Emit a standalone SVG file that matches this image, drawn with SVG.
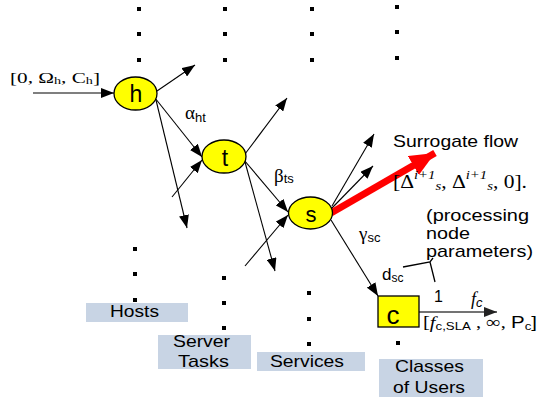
<svg xmlns="http://www.w3.org/2000/svg" width="539" height="402" viewBox="0 0 539 402">
<style>
.sans{font-family:"Liberation Sans",Arial,sans-serif;fill:#000}
.serif{font-family:"Liberation Serif","Times New Roman",serif;fill:#000}
.node{fill:#ffff00;stroke:#000;stroke-width:1.3}
.lbl{fill:#c8d4e4}
.dot{fill:#000}
.edge{stroke:#000;stroke-width:1.1;fill:none;marker-end:url(#ah)}
</style>
<defs>
<marker id="ah" markerUnits="userSpaceOnUse" markerWidth="14" markerHeight="10" refX="13" refY="5" orient="auto">
<path d="M0,0 L13,5 L0,10 z" fill="#000"/>
</marker>
<marker id="ahg" markerUnits="userSpaceOnUse" markerWidth="14" markerHeight="10" refX="13" refY="5" orient="auto">
<path d="M0,0 L13,5 L0,10 z" fill="#222"/>
</marker>
<marker id="ahr" markerUnits="userSpaceOnUse" markerWidth="26" markerHeight="22" refX="25" refY="11" orient="auto">
<path d="M0,0 L25,11 L0,22 z" fill="#ff0000"/>
</marker>
</defs>

<g id="dots">
<rect class="dot" x="137" y="7" width="4" height="4"/>
<rect class="dot" x="137" y="32" width="4" height="4"/>
<rect class="dot" x="137" y="58" width="4" height="4"/>
<rect class="dot" x="223" y="7" width="4" height="4"/>
<rect class="dot" x="223" y="32" width="4" height="4"/>
<rect class="dot" x="223" y="58" width="4" height="4"/>
<rect class="dot" x="310" y="7" width="4" height="4"/>
<rect class="dot" x="310" y="32" width="4" height="4"/>
<rect class="dot" x="310" y="58" width="4" height="4"/>
<rect class="dot" x="395" y="5" width="4" height="4"/>
<rect class="dot" x="395" y="30" width="4" height="4"/>
<rect class="dot" x="395" y="56" width="4" height="4"/>
<rect class="dot" x="133" y="247" width="4" height="4"/>
<rect class="dot" x="133" y="272" width="4" height="4"/>
<rect class="dot" x="133" y="298" width="4" height="4"/>
<rect class="dot" x="222" y="276" width="4" height="4"/>
<rect class="dot" x="222" y="301" width="4" height="4"/>
<rect class="dot" x="222" y="326" width="4" height="4"/>
<rect class="dot" x="307" y="291" width="4" height="4"/>
<rect class="dot" x="307" y="317" width="4" height="4"/>
<rect class="dot" x="307" y="342" width="4" height="4"/>
<rect class="dot" x="396" y="341" width="4" height="4"/>
</g>

<g id="connectors">
<line class="edge" x1="33" y1="93" x2="114" y2="93"/>
<line class="edge" x1="157" y1="91" x2="195" y2="65"/>
<line class="edge" x1="155" y1="98" x2="202" y2="157"/>
<line class="edge" x1="156" y1="100" x2="187" y2="228"/>
<line class="edge" x1="172" y1="197" x2="202" y2="160"/>
<line class="edge" x1="245" y1="154" x2="287" y2="98"/>
<line class="edge" x1="244" y1="160" x2="288" y2="212"/>
<line class="edge" x1="245" y1="162" x2="275" y2="271"/>
<line class="edge" x1="245" y1="266" x2="288" y2="215"/>
<line class="edge" x1="332" y1="206" x2="374" y2="134"/>
<line class="edge" x1="332" y1="208" x2="373" y2="166"/>
<line class="edge" x1="331" y1="220" x2="378" y2="296"/>
<line x1="419" y1="312" x2="497" y2="312" stroke="#444" stroke-width="1.3" marker-end="url(#ahg)"/>
<line x1="331" y1="213" x2="435" y2="153" stroke="#ff0000" stroke-width="7" marker-end="url(#ahr)"/>
<path d="M403,267 L430,262 L433,258 M430,262 L435,282" stroke="#000" stroke-width="1.3" fill="none"/>
</g>

<g id="node-h">
<ellipse class="node" cx="135.5" cy="93.5" rx="21.5" ry="16.5"/>
<text class="sans" x="136" y="102" font-size="23" text-anchor="middle">h</text>
</g>
<g id="node-t">
<ellipse class="node" cx="224" cy="156.5" rx="22" ry="16.5"/>
<text class="sans" x="225" y="166" font-size="23" text-anchor="middle">t</text>
</g>
<g id="node-s">
<ellipse class="node" cx="310.5" cy="213" rx="22" ry="16"/>
<text class="sans" x="311" y="222" font-size="22" text-anchor="middle">s</text>
</g>
<g id="node-c">
<rect class="node" x="378" y="296" width="41" height="31"/>
<text class="sans" x="393" y="324" font-size="26" text-anchor="middle">c</text>
</g>

<g id="label-hosts">
<rect class="lbl" x="86" y="303" width="102" height="19"/>
<text class="sans" x="110" y="317" font-size="17" textLength="49" lengthAdjust="spacingAndGlyphs">Hosts</text>
</g>
<g id="label-server-tasks">
<rect class="lbl" x="158" y="335" width="93" height="34"/>
<text class="sans" x="173" y="347" font-size="17" textLength="57" lengthAdjust="spacingAndGlyphs">Server</text>
<text class="sans" x="178" y="367" font-size="17" textLength="51" lengthAdjust="spacingAndGlyphs">Tasks</text>
</g>
<g id="label-services">
<rect class="lbl" x="257" y="352" width="108" height="19"/>
<text class="sans" x="270" y="367" font-size="17" textLength="74" lengthAdjust="spacingAndGlyphs">Services</text>
</g>
<g id="label-classes">
<rect class="lbl" x="379" y="359" width="104" height="38"/>
<text class="sans" x="395" y="372" font-size="17" textLength="69" lengthAdjust="spacingAndGlyphs">Classes</text>
<text class="sans" x="393" y="393" font-size="17" textLength="72" lengthAdjust="spacingAndGlyphs">of Users</text>
</g>

<g id="annotations">
<text class="serif" x="10" y="83" font-size="15" textLength="90" lengthAdjust="spacingAndGlyphs">[0,  Ω<tspan font-size="10" dy="1">h</tspan><tspan dy="-1">, C</tspan><tspan font-size="10" dy="1">h</tspan><tspan dy="-1">]</tspan></text>
<text x="185" y="119"><tspan class="serif" font-size="19">α</tspan><tspan class="sans" font-size="13" dy="3">ht</tspan></text>
<text x="274" y="182"><tspan class="serif" font-size="19">β</tspan><tspan class="sans" font-size="13" dy="1">ts</tspan></text>
<text x="359" y="240"><tspan class="serif" font-size="19">γ</tspan><tspan class="sans" font-size="13" dy="2">sc</tspan></text>
<text class="sans" x="393" y="147" font-size="17" textLength="125" lengthAdjust="spacingAndGlyphs">Surrogate flow</text>
<text class="serif" x="393" y="188" font-size="19" textLength="134" lengthAdjust="spacingAndGlyphs">[Δ<tspan font-size="13" font-style="italic" dy="-9">i+1</tspan><tspan font-size="13" font-style="italic" dy="11">s</tspan><tspan dy="-2">, Δ</tspan><tspan font-size="13" font-style="italic" dy="-9">i+1</tspan><tspan font-size="13" font-style="italic" dy="11">s</tspan><tspan dy="-2">, 0].</tspan></text>
<text class="sans" x="426" y="221" font-size="17" textLength="103" lengthAdjust="spacingAndGlyphs">(processing</text>
<text class="sans" x="426" y="239" font-size="17" textLength="44" lengthAdjust="spacingAndGlyphs">node</text>
<text class="sans" x="426" y="257" font-size="17" textLength="107" lengthAdjust="spacingAndGlyphs">parameters)</text>
<text class="sans" x="382" y="280" font-size="17">d<tspan font-size="12" dy="2">sc</tspan></text>
<text class="sans" x="434" y="302" font-size="16">1</text>
<text x="471" y="305"><tspan class="serif" font-size="18" font-style="italic">f</tspan><tspan class="sans" font-size="13" font-style="italic" dy="2">c</tspan></text>
<text x="423" y="328" textLength="114" lengthAdjust="spacingAndGlyphs"><tspan class="serif" font-size="17">[</tspan><tspan class="serif" font-size="17" font-style="italic">f</tspan><tspan class="sans" font-size="11" dy="2">c,SLA</tspan><tspan class="serif" font-size="17" dy="-2"> , ∞, </tspan><tspan class="sans" font-size="17">P</tspan><tspan class="sans" font-size="11" dy="2">c</tspan><tspan class="sans" font-size="17" dy="-2">]</tspan></text>
</g>
</svg>
